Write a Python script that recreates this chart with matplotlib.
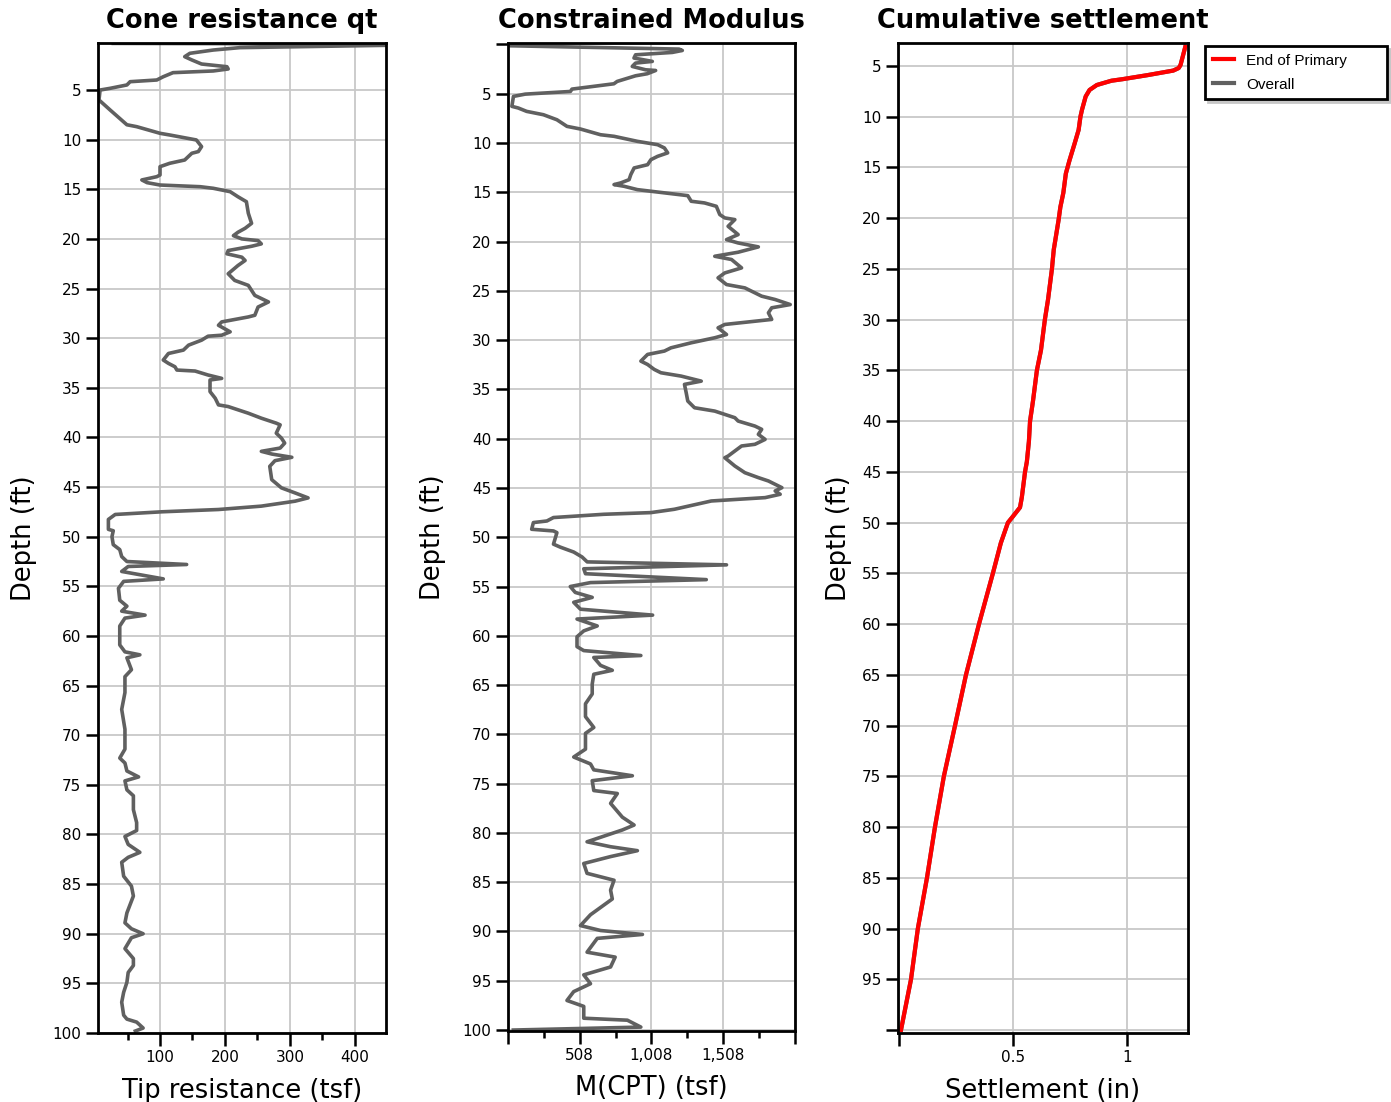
import matplotlib
matplotlib.use("Agg")
import matplotlib.pyplot as plt
from matplotlib.ticker import FixedLocator, FuncFormatter

# ---- CPT sounding: cone tip resistance qt (tsf) versus depth (ft) ----
qt_depth = [0.30, 0.38, 0.73, 0.97, 1.30, 1.64, 1.97, 2.38, 2.65, 2.88, 3.08, 3.25, 3.66, 3.99,
            4.16, 4.49, 4.83, 5.0, 6.0, 7.0, 8.5, 8.69, 9.36, 9.53, 10.03, 10.7, 11.2, 11.37,
            12.05, 12.38, 12.72, 13.56, 13.73, 14.06, 14.33, 14.57, 14.74, 14.9, 15.24, 15.75,
            16.25, 17.42, 18.43, 18.93, 19.33, 19.67, 20.0, 20.17, 20.5, 20.74, 21.17, 21.5,
            21.84, 22.17, 22.68, 23.51, 24.18, 24.68, 25.69, 26.35, 26.86, 27.69, 27.86, 28.36,
            28.7, 29.36, 29.7, 29.8, 30.2, 30.7, 31.2, 31.54, 32.2, 32.54, 32.88, 33.21, 33.31,
            33.71, 34.05, 34.21, 35.38, 36.05, 36.72, 36.89, 37.56, 38.06, 38.56, 38.73, 39.57,
            40.07, 40.57, 41.07, 41.4, 41.67, 42.0, 42.34, 42.91, 44.25, 45.08, 45.59, 46.09,
            46.42, 46.92, 47.26, 47.49, 47.76, 48.26, 49.26, 49.4, 50.0, 50.8, 51.3, 52.0, 52.5,
            52.8, 53.0, 53.5, 54.25, 54.5, 55.2, 56.4, 57.0, 57.5, 57.9, 58.2, 59.0, 60.9, 61.6,
            61.9, 62.2, 63.4, 64.1, 65.7, 67.4, 69.4, 71.4, 72.3, 72.8, 73.6, 74.2, 74.6, 75.5,
            76.1, 77.5, 78.8, 79.6, 80.2, 81.0, 81.8, 82.3, 82.8, 84.2, 85.2, 86.2, 87.9, 88.9,
            89.5, 90.0, 90.4, 91.5, 92.5, 93.2, 93.9, 94.9, 95.9, 96.9, 98.2, 98.6, 98.9, 99.5,
            99.8]
qt_tsf = [28, 560, 223, 182, 146, 138, 149, 164, 203, 205, 182, 120, 105, 95,
          54, 49, 23, 7.7, 6, 23, 49, 64, 100, 115, 156, 164, 159, 149,
          138, 115, 100, 100, 95, 72, 80, 100, 162, 182, 208, 220,
          233, 236, 241, 231, 220, 213, 226, 251, 256, 241, 205, 203,
          226, 231, 220, 205, 215, 236, 246, 267, 251, 246, 236, 195,
          190, 208, 195, 174, 164, 144, 136, 113, 105, 113, 123, 126, 154,
          174, 195, 177, 177, 185, 190, 205, 236, 256, 279, 285, 279,
          287, 292, 285, 256, 272, 303, 277, 269, 272, 287, 308, 328,
          308, 256, 190, 103, 31, 20.5, 20.5, 28, 26, 28, 38, 41, 49,
          141, 51, 41, 105, 44, 36, 38, 49, 41, 77, 46, 38, 38, 46,
          69, 49, 56, 46, 46, 41, 46, 46, 38, 46, 49, 67, 46, 49,
          59, 59, 64, 64, 46, 51, 69, 51, 41, 44, 56, 59, 49, 46,
          56, 74, 56, 46, 59, 59, 51, 49, 44, 41, 44, 49, 64, 74,
          62]

# ---- Constrained modulus M(CPT) (tsf) versus depth (ft) ----
m_depth = [0.13, 0.47, 0.61, 0.81, 1.05, 1.38, 1.72, 1.89, 2.23, 2.57, 2.64, 2.97, 3.18, 3.75,
           3.99, 4.53, 4.77, 5.04, 5.27, 6.28, 6.45, 6.79, 7.13, 7.64, 8.31, 8.58, 9.16, 9.32,
           9.83, 10.17, 10.5, 11.0, 11.35, 11.69, 12.2, 12.53, 13.2, 13.72, 14.05, 14.22, 14.39,
           14.73, 15.14, 15.34, 15.91, 16.08, 16.42, 17.26, 17.6, 17.77, 18.45, 19.29, 19.8,
           20.14, 20.54, 21.08, 21.49, 21.82, 22.67, 23.18, 23.68, 24.36, 24.7, 25.54, 25.88,
           26.39, 26.72, 27.23, 27.9, 28.41, 28.75, 29.43, 29.76, 30.27, 30.78, 31.11, 31.45,
           32.13, 32.47, 32.97, 33.31, 33.65, 34.16, 34.49, 35.34, 36.18, 36.86, 37.2, 37.87,
           38.21, 38.72, 39.05, 39.56, 40.07, 40.57, 40.74, 41.76, 41.93, 42.77, 43.45, 43.95,
           44.29, 44.97, 45.3, 45.64, 45.98, 46.32, 47.16, 47.5, 47.67, 48.0, 48.35, 48.51,
           49.19, 49.36, 49.53, 50.7, 51.0, 51.5, 52.0, 52.5, 52.8, 53.2, 53.7, 54.3, 54.6,
           55.0, 55.6, 56.1, 56.6, 57.3, 57.9, 58.3, 59.0, 59.5, 60.1, 61.1, 61.5, 62.0, 62.2,
           63.0, 63.5, 63.9, 64.9, 65.9, 66.9, 68.2, 69.3, 69.9, 71.5, 72.3, 73.0, 73.6, 74.2,
           74.7, 75.7, 76.0, 77.0, 78.4, 79.2, 79.7, 80.9, 81.4, 81.8, 82.4, 83.1, 84.1, 84.8,
           85.8, 86.7, 88.3, 89.4, 89.9, 90.3, 90.7, 92.1, 92.6, 93.6, 94.4, 95.3, 96.1, 97.0,
           97.6, 98.8, 99.0, 99.7, 100.0]
m_tsf = [11, 1200, 1223, 1153, 897, 886, 1014, 897, 874, 967, 1037, 979, 897, 769,
         746, 454, 443, 128, 46, 35, 80, 138, 255, 349, 419, 513, 653, 747,
         910, 1051, 1098, 1121, 1051, 1004, 981, 887, 864, 852, 793, 747, 817,
         910, 1144, 1261, 1285, 1378, 1460, 1484, 1519, 1589, 1542, 1612, 1531,
         1612, 1753, 1612, 1449, 1566, 1636, 1519, 1472, 1531, 1659, 1776, 1870,
         1975, 1846, 1823, 1846, 1519, 1472, 1531, 1449, 1285, 1144, 1098, 981,
         934, 981, 1027, 1074, 1215, 1355, 1238, 1250, 1261, 1308, 1449, 1589,
         1612, 1729, 1776, 1753, 1800, 1729, 1636, 1542, 1519, 1589, 1659, 1753,
         1823, 1917, 1870, 1905, 1800, 1425, 1168, 1004, 676, 325, 279, 185,
         173, 325, 349, 325, 372, 466, 524, 560, 1531, 536, 548, 1390, 583,
         442, 477, 595, 466, 513, 1016, 489, 630, 536, 489, 489, 536, 934, 606,
         653, 735, 606, 595, 595, 548, 548, 606, 548, 548, 466, 583, 606, 875,
         595, 606, 770, 723, 805, 887, 805, 559, 723, 910, 723, 536, 559, 747,
         723, 735, 583, 513, 653, 945, 630, 559, 755, 723, 536, 583, 466, 419,
         536, 536, 840, 934, 45]

# ---- Cumulative settlement (in) versus depth (ft) ----
settle_depth = [3.1, 4.9, 5.2, 5.45, 5.9, 6.3, 6.45, 6.87, 7.36, 8.0, 9.3, 10.0, 11.3, 12.6,
                14.3, 15.6, 17.5, 18.9, 20.2, 23.1, 25, 28, 30, 33, 35, 38, 40, 42, 44, 45,
                47.5, 48.5, 49.5, 50, 52, 55, 60, 65, 70, 75, 80, 85, 90, 95, 100]
settle_primary_in = [1.256, 1.235, 1.227, 1.203, 1.09, 0.98, 0.932, 0.868, 0.836, 0.819, 0.803,
                     0.796, 0.788, 0.771, 0.748, 0.732, 0.721, 0.708, 0.70, 0.679, 0.671, 0.654,
                     0.64, 0.623, 0.605, 0.588, 0.575, 0.570, 0.561, 0.553, 0.539, 0.531, 0.496,
                     0.478, 0.447, 0.412, 0.351, 0.294, 0.246, 0.197, 0.158, 0.123, 0.083,
                     0.053, 0.009]
settle_overall_in = list(settle_primary_in)

depth_ticks = list(range(5, 105, 5))
qt_major = [100, 200, 300, 400]
qt_minor = [50, 150, 250, 350]
m_major = [8, 508, 1008, 1508, 2008]
m_minor = [258, 758, 1258, 1758]
s_major = [0, 0.5, 1]

LINE_GREY = "#606060"
GRID = "#c8c8c8"

plt.rcParams["font.family"] = ["DejaVu Sans"]

fig = plt.figure(figsize=(13.91, 11.02), dpi=100)
fig.patch.set_facecolor("white")

ax1 = fig.add_axes([0.0705, 0.0626, 0.2070, 0.8984])
ax2 = fig.add_axes([0.3652, 0.0644, 0.2063, 0.8966])
ax3 = fig.add_axes([0.6456, 0.0626, 0.2085, 0.8984])


def style_axes(ax, title, xlabel, ylabel_x):
    for sp in ax.spines.values():
        sp.set_linewidth(2.0)
        sp.set_color("black")
    ax.tick_params(axis="both", which="major", direction="out", length=9, width=1.8,
                   labelsize=11, colors="black", pad=3)
    ax.tick_params(axis="x", which="minor", direction="out", length=5, width=1.8)
    ax.grid(True, which="major", color=GRID, linewidth=1.3)
    ax.set_axisbelow(True)
    ax.set_title(title, fontsize=18.5, fontweight="bold", pad=11)
    ax.set_xlabel(xlabel, fontsize=18.5)
    ax.xaxis.set_label_coords(0.5, -0.045)
    ax.set_ylabel("Depth (ft)", fontsize=18.5)
    ax.yaxis.set_label_coords(ylabel_x, 0.5)


# Cone resistance
ax1.plot(qt_tsf, qt_depth, color=LINE_GREY, lw=2.6, solid_joinstyle="round")
ax1.set_xlim(4.6, 448)
ax1.set_ylim(100, 0.26)
ax1.xaxis.set_major_locator(FixedLocator(qt_major))
ax1.xaxis.set_minor_locator(FixedLocator(qt_minor))
ax1.yaxis.set_major_locator(FixedLocator(depth_ticks))
style_axes(ax1, "Cone resistance qt", "Tip resistance (tsf)", -0.212)

# Constrained modulus
ax2.plot(m_tsf, m_depth, color=LINE_GREY, lw=2.6, solid_joinstyle="round")
ax2.set_xlim(8, 2008)
ax2.set_ylim(100.1, -0.15)
ax2.xaxis.set_major_locator(FixedLocator(m_major))
ax2.xaxis.set_minor_locator(FixedLocator(m_minor))
ax2.xaxis.set_major_formatter(FuncFormatter(
    lambda v, p: "" if v in (8, 2008) else f"{v:,.0f}"))
ax2.yaxis.set_major_locator(FixedLocator([0] + depth_ticks))
ax2.yaxis.set_major_formatter(FuncFormatter(lambda v, p: "" if v == 0 else f"{v:g}"))
style_axes(ax2, "Constrained Modulus", "M(CPT) (tsf)", -0.215)

# Cumulative settlement
ax3.plot(settle_overall_in, settle_depth, color=LINE_GREY, lw=3.0, label="Overall")
ax3.plot(settle_primary_in, settle_depth, color="#ff0000", lw=3.0,
         solid_joinstyle="round", label="End of Primary")
ax3.set_xlim(-0.004, 1.268)
ax3.set_ylim(100.3, 2.73)
ax3.xaxis.set_major_locator(FixedLocator(s_major))
ax3.xaxis.set_major_formatter(FuncFormatter(lambda v, p: "" if v == 0 else f"{v:g}"))
ax3.yaxis.set_major_locator(FixedLocator(depth_ticks))
ax3.yaxis.set_major_formatter(FuncFormatter(lambda v, p: "" if v == 100 else f"{v:g}"))
style_axes(ax3, "Cumulative settlement", "Settlement (in)", -0.158)

handles, labels = ax3.get_legend_handles_labels()
leg = fig.legend(handles[::-1], labels[::-1],
                 loc="upper left", bbox_to_anchor=(1205 / 1391, 1 - 46 / 1102, 182 / 1391, 0.0),
                 bbox_transform=fig.transFigure, mode="expand", borderaxespad=0,
                 fancybox=False, shadow={"color": "0.78", "alpha": 1.0},
                 prop={"family": "Liberation Sans", "size": 11},
                 handlelength=1.4, handletextpad=0.8, labelspacing=0.65,
                 borderpad=0.5, framealpha=1.0)
leg.get_frame().set_edgecolor("black")
leg.get_frame().set_linewidth(2.0)

fig.savefig("out.png", dpi=100, facecolor="white")
